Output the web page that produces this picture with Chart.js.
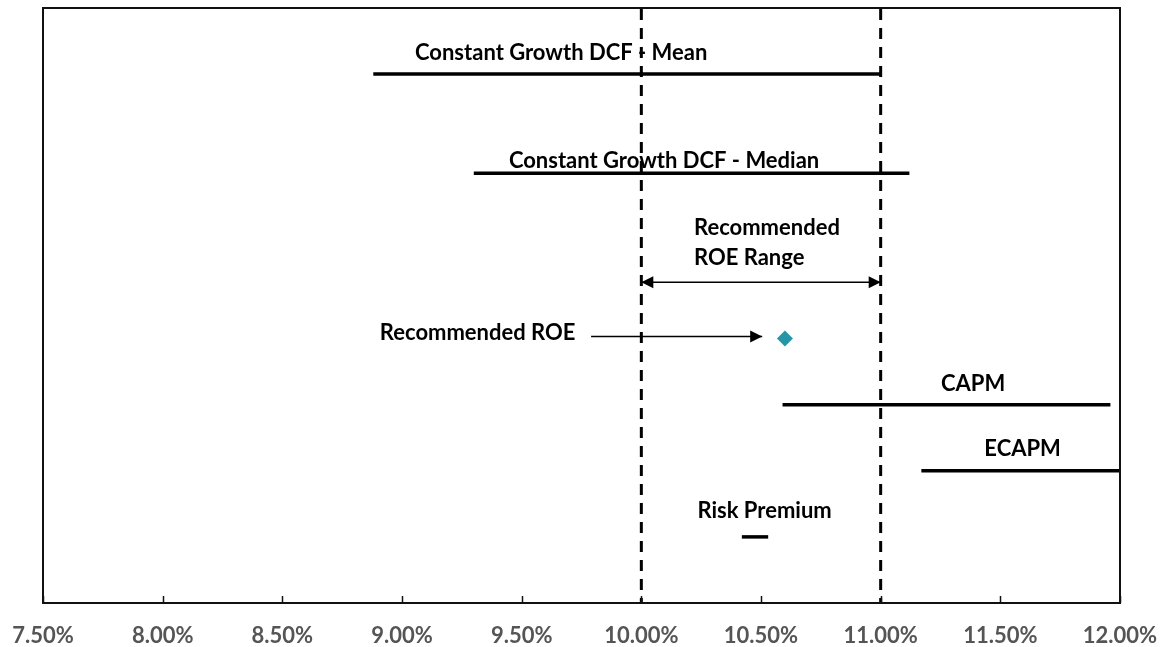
<!DOCTYPE html>
<html>
<head>
<meta charset="utf-8">
<script src="https://cdn.jsdelivr.net/npm/chart.js@4.4.1/dist/chart.umd.min.js"></script>
<style>
  html, body { margin: 0; padding: 0; background: #fff; }
  #wrap { width: 1168px; height: 647px; position: relative; }
</style>
</head>
<body>
<div id="wrap"><canvas id="roe"></canvas></div>
<script>
// ROE estimate ranges by model (percent)
const modelNames = ['Constant Growth DCF - Mean', 'Constant Growth DCF - Median', 'CAPM', 'ECAPM', 'Risk Premium'];
const rangeLow  = [8.88, 9.30, 10.59, 11.17, 10.42];
const rangeHigh = [11.00, 11.12, 11.96, 12.00, 10.53];
const rowLevel  = [8, 6.5, 3, 2, 1];

// Recommended ROE point and recommended range
const recommendedROE = 10.60;
const recommendedLevel = 4;
const recommendedRange = [10.00, 11.00];

// Axis
const xTickValues = [7.5, 8.0, 8.5, 9.0, 9.5, 10.0, 10.5, 11.0, 11.5, 12.0];
const xMin = 7.5, xMax = 12.0, yMin = 0, yMax = 9;

const FONT = 'Lato, "Open Sans", sans-serif';

// Text placed in data coordinates (x in %, y in row units)
const textNotes = [
  { lines: [modelNames[0]], x: 9.665, y: 8.32, align: 'center' },
  { lines: [modelNames[1]], x: 10.095, y: 6.69, align: 'center' },
  { lines: [modelNames[2]], x: 11.386, y: 3.32, align: 'center' },
  { lines: [modelNames[3]], x: 11.593, y: 2.33, align: 'center' },
  { lines: [modelNames[4]], x: 10.515, y: 1.40, align: 'center' },
  { lines: ['Recommended ROE'], x: 9.316, y: 4.08, align: 'center' },
  { lines: ['Recommended', 'ROE Range'], x: 10.22, y: 5.68, align: 'left', lineGap: 30 }
];

// Arrow annotations in data coordinates
const arrows = [
  { x1: recommendedRange[0], x2: recommendedRange[1], y1: 4.85, y2: 4.85, heads: 'both' },
  { x1: 9.79, x2: 10.505, y1: 4.03, y2: 4.03, heads: 'end' }
];

const datasets = [];
modelNames.forEach((name, i) => {
  datasets.push({
    label: name,
    data: [{ x: rangeLow[i], y: rowLevel[i] }, { x: rangeHigh[i], y: rowLevel[i] }],
    borderColor: '#000', borderWidth: 3.5, pointRadius: 0, borderCapStyle: 'butt',
    showLine: true, clip: 2
  });
});
recommendedRange.forEach((v, i) => {
  datasets.push({
    label: i === 0 ? 'Range low' : 'Range high',
    data: [{ x: v, y: yMin }, { x: v, y: yMax }],
    borderColor: '#000', borderWidth: 3, borderDash: [11, 8], borderDashOffset: 6, pointRadius: 0,
    showLine: true, clip: false
  });
});
datasets.push({
  label: 'Recommended ROE',
  data: [{ x: recommendedROE, y: recommendedLevel }],
  pointStyle: 'rectRot', pointRadius: 8, backgroundColor: '#2596A5', borderColor: '#2596A5',
  borderWidth: 0, showLine: false
});

const frameAndNotes = {
  id: 'frameAndNotes',
  afterDatasetsDraw(chart) {
    const { ctx, chartArea: a, scales: { x, y } } = chart;
    ctx.save();
    // plot frame
    ctx.strokeStyle = '#111';
    ctx.lineWidth = 2;
    ctx.strokeRect(a.left, a.top, a.right - a.left, a.bottom - a.top);
    // inward tick marks
    ctx.lineWidth = 1.5;
    xTickValues.forEach(v => {
      const px = Math.round(x.getPixelForValue(v)) + 0.5;
      ctx.beginPath();
      ctx.moveTo(px, a.bottom);
      ctx.lineTo(px, a.bottom - 7);
      ctx.stroke();
    });
    // arrows
    ctx.strokeStyle = '#000';
    ctx.fillStyle = '#000';
    ctx.lineWidth = 1.5;
    const head = (tx, ty, dir) => {
      ctx.beginPath();
      ctx.moveTo(tx, ty);
      ctx.lineTo(tx - dir * 12, ty - 6);
      ctx.lineTo(tx - dir * 12, ty + 6);
      ctx.closePath();
      ctx.fill();
    };
    arrows.forEach(ar => {
      const x1 = x.getPixelForValue(ar.x1), x2 = x.getPixelForValue(ar.x2);
      const y1 = y.getPixelForValue(ar.y1), y2 = y.getPixelForValue(ar.y2);
      ctx.beginPath();
      ctx.moveTo(x1, y1);
      ctx.lineTo(x2, y2);
      ctx.stroke();
      head(x2, y2, 1);
      if (ar.heads === 'both') head(x1, y1, -1);
    });
    // text
    ctx.fillStyle = '#000';
    ctx.font = 'bold 22px ' + FONT;
    ctx.textBaseline = 'middle';
    textNotes.forEach(n => {
      ctx.textAlign = n.align;
      const px = x.getPixelForValue(n.x);
      const py = y.getPixelForValue(n.y);
      n.lines.forEach((line, k) => ctx.fillText(line, px, py + k * (n.lineGap || 0)));
    });
    ctx.restore();
  }
};

new Chart(document.getElementById('roe'), {
  type: 'scatter',
  data: { datasets },
  options: {
    responsive: true,
    maintainAspectRatio: false,
    animation: false,
    layout: { padding: { left: 43, right: 48, top: 7, bottom: 0 } },
    plugins: { legend: { display: false }, tooltip: { enabled: false } },
    scales: {
      x: {
        type: 'linear', min: xMin, max: xMax,
        afterBuildTicks(scale) { scale.ticks = xTickValues.map(v => ({ value: v })); },
        afterFit(scale) {
          scale.height = 44;
          scale.paddingLeft = 0;
          scale.paddingRight = 0;
        },
        grid: { display: false, drawTicks: false },
        border: { display: false },
        ticks: {
          padding: 20,
          color: '#555555',
          font: { family: FONT, size: 22, weight: 'bold' },
          maxRotation: 0, autoSkip: false,
          callback: v => Number(v).toFixed(2) + '%'
        }
      },
      y: {
        type: 'linear', min: yMin, max: yMax, display: false
      }
    }
  },
  plugins: [frameAndNotes]
});
</script>
</body>
</html>
